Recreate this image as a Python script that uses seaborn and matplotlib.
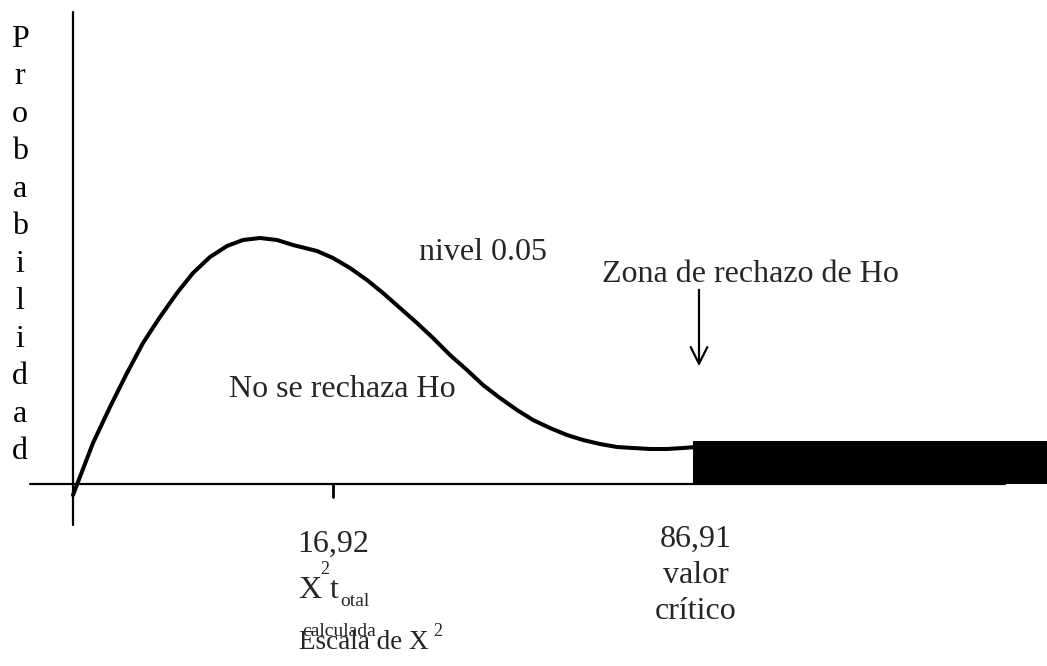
import numpy as np
import pandas as pd
import seaborn as sns
import matplotlib
matplotlib.use("Agg")
import matplotlib.pyplot as plt

# curve of the chi-square sketch (drawing units = pixels of the original sketch)
curve_x = [73, 83, 93, 110, 127, 143, 160, 177, 193, 210, 227, 243, 260, 277,
           293, 317, 333, 350, 367, 383, 400, 417, 433, 450, 467, 483,
           500, 517, 533, 550, 567, 583, 600, 617, 633, 650, 667, 683, 697]
curve_y = [495, 469, 443, 407, 373, 343, 317, 293, 273, 257, 246, 240, 238, 240,
           245, 251, 258, 268, 280, 293, 308, 323, 338, 355, 370, 385,
           398, 410, 420, 428, 435, 440, 444, 447, 448, 449, 449, 448, 447]

# rejection zone block
zone_x = [693, 1047]
zone_top = 441
zone_bottom = 484

axis_y = 484
axis_x = 73
tick_x = 333

ylabel_letters = list("Probabilidad")

sns.set_theme(style="white")
plt.rcParams["font.family"] = ["Liberation Serif", "DejaVu Serif"]

fig = plt.figure(figsize=(10.47, 6.66), dpi=100)
ax = fig.add_axes([0, 0, 1, 1])
ax.set_xlim(0, 1047)
ax.set_ylim(666, 0)
ax.axis("off")

df = pd.DataFrame({"x": curve_x, "y": curve_y})
sns.lineplot(data=df, x="x", y="y", sort=False, color="black", lw=2.9, ax=ax)
ax.lines[-1].set_solid_capstyle("round")
ax.lines[-1].set_solid_joinstyle("round")

ax.fill_between(zone_x, zone_top, zone_bottom, color="black", lw=0)

# axes of the sketch
ax.plot([30, 1005], [axis_y, axis_y], color="black", lw=1.6)
ax.plot([axis_x, axis_x], [12, 525], color="black", lw=1.6)
ax.plot([tick_x, tick_x], [axis_y, 497], color="black", lw=2)

ax.annotate("", xy=(699, 369), xytext=(699, 287),
            arrowprops=dict(arrowstyle="->", lw=1.6, color="black", mutation_scale=30))

fs = 23
small = 13

ax.text(20, 25, "\n".join(ylabel_letters), ha="center", va="top",
        fontsize=fs, linespacing=1.385, color="black")
ax.text(419, 260, "nivel 0.05", fontsize=fs, va="baseline")
ax.text(602, 282, "Zona de rechazo de Ho", fontsize=fs, va="baseline")
ax.text(229, 397, "No se rechaza Ho", fontsize=fs, va="baseline")

ax.text(333, 552, "16,92", fontsize=fs, ha="center", va="baseline")
ax.text(298, 598, "X", fontsize=fs, va="baseline")
ax.text(320, 574, "2", fontsize=small, va="baseline")
ax.text(330, 598, "t", fontsize=fs, va="baseline")
ax.text(340, 606, "otal", fontsize=small + 1, va="baseline")

ax.text(302, 636, "calculada", fontsize=small + 1, va="baseline")
ax.text(299, 649, "Escala de X", fontsize=19.5, va="baseline")
ax.text(433, 636, "2", fontsize=small, va="baseline")

ax.text(696, 525, "86,91\nvalor\ncrítico", fontsize=fs, ha="center",
        va="top", linespacing=1.31)

plt.savefig("out.png", dpi=100)
